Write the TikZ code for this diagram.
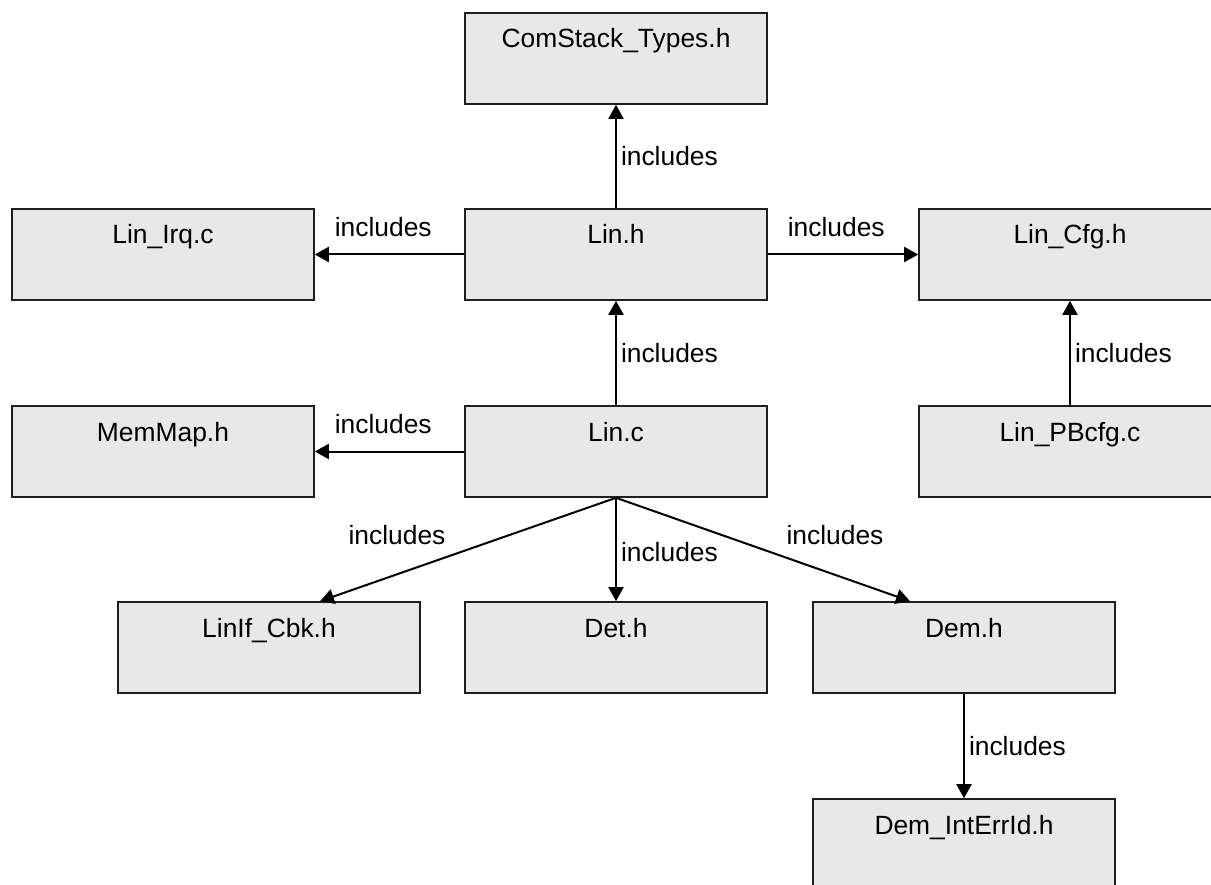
\documentclass[tikz,border=0pt]{standalone}
\usepackage{fontspec}
\setmainfont{Liberation Sans}
\usetikzlibrary{arrows.meta,calc}

\definecolor{boxfill}{HTML}{E8E8E8}
\definecolor{boxline}{HTML}{1E1E1E}

\tikzset{
  filebox/.style={draw=boxline, fill=boxfill, line width=1.6pt,
    rectangle, inner sep=0pt, text width=302pt, align=center,
    text height=35pt, text depth=56pt, font=\fontsize{26.4}{30}\selectfont},
  dep/.style={draw=black, line width=2pt,
    -{Triangle[length=14pt,width=15pt]}},
  lbl/.style={font=\fontsize{26.4}{30}\selectfont, inner sep=4pt},
}

\begin{document}
\begin{tikzpicture}[x=1pt, y=-1pt]
  \useasboundingbox (0,0) rectangle (1211,885);
  \clip (0,0) rectangle (1211,885);

  % file boxes, one per source or header
  \node[filebox] (comstack) at (616,58.5)  {ComStack\_Types.h};
  \node[filebox] (linirq)   at (163,254.5) {Lin\_Irq.c};
  \node[filebox] (linh)     at (616,254.5) {Lin.h};
  \node[filebox] (lincfg)   at (1070,254.5) {Lin\_Cfg.h};
  \node[filebox] (memmap)   at (163,451.5) {MemMap.h};
  \node[filebox] (linc)     at (616,451.5) {Lin.c};
  \node[filebox] (pbcfg)    at (1070,451.5) {Lin\_PBcfg.c};
  \node[filebox] (linif)    at (269,647.5) {LinIf\_Cbk.h};
  \node[filebox] (det)      at (616,647.5) {Det.h};
  \node[filebox] (dem)      at (964,647.5) {Dem.h};
  \node[filebox] (demerr)   at (964,844.5) {Dem\_IntErrId.h};

  % include relations
  \draw[dep] (linh.north) -- node[lbl, anchor=west, midway] {includes} (comstack.south);
  \draw[dep] (linh.west) -- node[lbl, pos=1, anchor=base west, xshift=15pt, yshift=18pt, inner sep=4pt] {includes} (linirq.east);
  \draw[dep] (linh.east) -- node[lbl, pos=0, anchor=base west, xshift=15pt, yshift=18pt] {includes} (lincfg.west);
  \draw[dep] (pbcfg.north) -- node[lbl, anchor=west, midway] {includes} (lincfg.south);
  \draw[dep] (linc.north) -- node[lbl, anchor=west, midway] {includes} (linh.south);
  \draw[dep] (linc.west) -- node[lbl, pos=1, anchor=base west, xshift=15pt, yshift=18pt] {includes} (memmap.east);

  \coordinate (linifin) at ($(linif.north)+(51,0)$);
  \coordinate (demin)   at ($(dem.north)+(-54,0)$);
  \draw[dep] (linc.south) -- (linifin);
  \draw[dep] (linc.south) -- node[lbl, anchor=west, midway, yshift=-3pt] {includes} (det.north);
  \draw[dep] (linc.south) -- (demin);
  \node[lbl, anchor=base] (lblif)  at ($(linc.south)+(-219,47)$) {includes};
  \node[lbl, anchor=base] (lbldem) at ($(linc.south)+(219,47)$) {includes};

  \draw[dep] (dem.south) -- node[lbl, anchor=west, midway] {includes} (demerr.north);
\end{tikzpicture}
\end{document}
